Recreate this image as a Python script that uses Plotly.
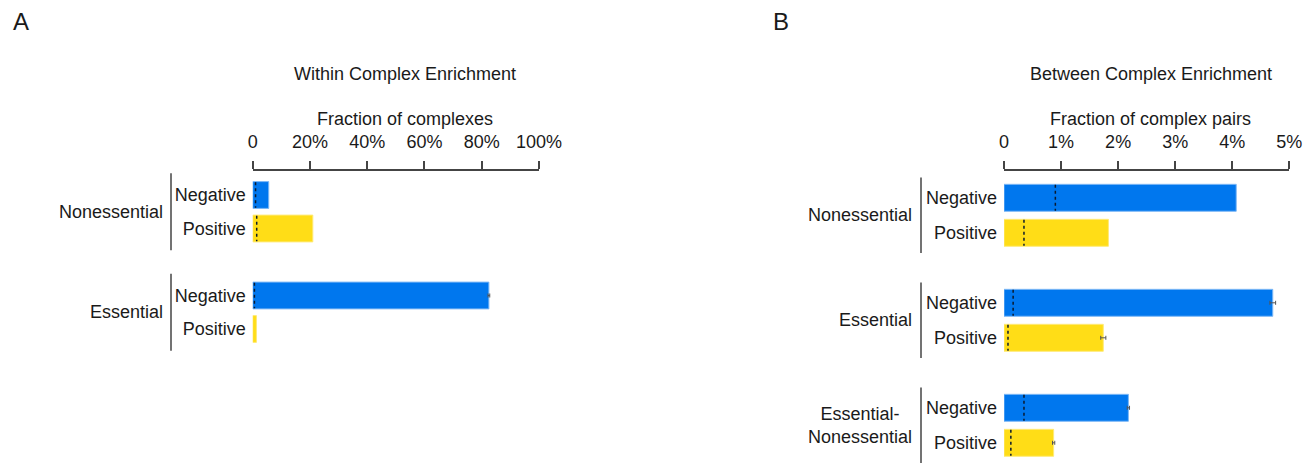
import plotly.graph_objects as go

W, H = 1316, 466

# ---------------- data ----------------
types = ["Negative", "Positive"]
A_groups = ["Nonessential", "Essential"]
A_values = [5.6, 21.0, 82.5, 1.3]          # % of complexes
A_null = [1.0, 1.4, 0.6, None]             # dashed background level
A_err = [None, None, 0.3, None]
A_ticks = [0, 20, 40, 60, 80, 100]
A_ticktext = ["0", "20%", "40%", "60%", "80%", "100%"]

B_groups = ["Nonessential", "Essential", "Essential-<br>Nonessential"]
B_values = [4.07, 1.83, 4.71, 1.74, 2.18, 0.87]   # % of complex pairs
B_null = [0.9, 0.35, 0.16, 0.07, 0.35, 0.12]
B_err = [None, None, 0.05, 0.045, 0.02, 0.02]
B_ticks = [0, 1, 2, 3, 4, 5]
B_ticktext = ["0", "1%", "2%", "3%", "4%", "5%"]

BLUE, BLUE_EDGE = "#0077EE", "#7DB8F6"
YELLOW, YELLOW_EDGE = "#FFDD17", "#FFEA77"
TXT = "#1a1a1a"
AX = "#444444"
FONT = "Liberation Sans, Arial, Helvetica, sans-serif"


def px_x(x):
    return x / W


def px_y(y):
    return 1 - y / H


def build_categories(groups):
    cats, keys = [], []
    for gi, g in enumerate(groups):
        if gi > 0:
            cats.append(" " * gi)  # spacer category between groups
        for t in types:
            k = f"{g}|{t}"
            cats.append(k)
            keys.append(k)
    return cats, keys


A_cats, A_keys = build_categories(A_groups)
B_cats, B_keys = build_categories(B_groups)

fig = go.Figure()

for keys, vals, errs, xa, ya, bw in [(A_keys, A_values, A_err, "x", "y", 0.8),
                                      (B_keys, B_values, B_err, "x2", "y2", 0.77)]:
    for k, v, e in zip(keys, vals, errs):
        neg = k.endswith("Negative")
        tr = dict(x=[v], y=[k], orientation="h", xaxis=xa, yaxis=ya,
                  marker=dict(color=BLUE if neg else YELLOW,
                              line=dict(width=1, color=BLUE_EDGE if neg else YELLOW_EDGE)),
                  width=bw, hoverinfo="x+y")
        if e is not None:
            tr["error_x"] = dict(type="data", array=[e], color="#555",
                                 thickness=1, width=2)
        fig.add_trace(go.Bar(**tr))

shapes = []
# dashed background lines
for keys, cats, nulls, xr, yr, hw in [(A_keys, A_cats, A_null, "x", "y", 0.38),
                                       (B_keys, B_cats, B_null, "x2", "y2", 0.37)]:
    for k, v in zip(keys, nulls):
        if v is None:
            continue
        i = cats.index(k)
        shapes.append(dict(type="line", xref=xr, yref=yr, x0=v, x1=v,
                           y0=i - hw, y1=i + hw,
                           line=dict(color="#0a1a2e", width=1.5, dash="3px,3px")))

annotations = []
# group brackets and labels
for groups, cats, yr, bx, ext, lx in [(A_groups, A_cats, "y", 171, 0.65, 165),
                                       (B_groups, B_cats, "y2", 921, 0.58, 914)]:
    for g in groups:
        i0 = cats.index(f"{g}|{types[0]}")
        i1 = cats.index(f"{g}|{types[-1]}")
        shapes.append(dict(type="line", xref="paper", yref=yr,
                           x0=px_x(bx), x1=px_x(bx), y0=i0 - ext, y1=i1 + ext,
                           line=dict(color=AX, width=1.5)))
        annotations.append(dict(text=g, xref="paper", yref=yr, x=px_x(lx),
                                y=(i0 + i1) / 2, xanchor="right", yanchor="middle",
                                align="center", showarrow=False,
                                font=dict(size=18, color=TXT)))

# panel letters, titles, axis titles
for txt, x, y, size in [("A", 21, 22, 24), ("B", 781, 22, 24),
                        ("Within Complex Enrichment", 405, 74, 18),
                        ("Between Complex Enrichment", 1151, 74, 18),
                        ("Fraction of complexes", 405, 119, 18),
                        ("Fraction of complex pairs", 1150, 119, 18)]:
    annotations.append(dict(text=txt, xref="paper", yref="paper", x=px_x(x), y=px_y(y),
                            xanchor="center", yanchor="middle", showarrow=False,
                            font=dict(size=size, color=TXT)))

xcommon = dict(side="top", showline=True, linecolor=AX, linewidth=1.5, ticks="outside",
               ticklen=8, tickwidth=1.5, tickcolor=AX, showgrid=False, zeroline=False,
               tickfont=dict(size=18, color=TXT), ticklabelstandoff=6, automargin=False)
ycommon = dict(type="category", showline=False, ticks="", showgrid=False, zeroline=False,
               tickfont=dict(size=18, color=TXT), ticklabelstandoff=6, automargin=False)

A_top, A_bot = 171, 360
B_top, B_bot = 171, 466
A_unit, B_unit = 33.5, 35.0
A_start = -24 / A_unit
B_start = -26.8 / B_unit

fig.update_layout(
    template="none",
    width=W, height=H, margin=dict(l=0, r=0, t=0, b=0, pad=0), autosize=False,
    paper_bgcolor="white", plot_bgcolor="white", showlegend=False,
    barmode="overlay",
    font=dict(family=FONT, color=TXT, size=18),
    xaxis=dict(domain=[px_x(252.7), px_x(539)], anchor="y", range=[0, 100],
               tickvals=A_ticks, ticktext=A_ticktext, **xcommon),
    yaxis=dict(domain=[px_y(A_bot), px_y(A_top)], anchor="x",
               categoryorder="array", categoryarray=A_cats,
               range=[A_start + (A_bot - A_top) / A_unit, A_start],
               tickvals=A_keys, ticktext=[k.split("|")[1] for k in A_keys], **ycommon),
    xaxis2=dict(domain=[px_x(1004), px_x(1289.3)], anchor="y2", range=[0, 5],
                tickvals=B_ticks, ticktext=B_ticktext, **xcommon),
    yaxis2=dict(domain=[px_y(B_bot), px_y(B_top)], anchor="x2",
                categoryorder="array", categoryarray=B_cats,
                range=[B_start + (B_bot - B_top) / B_unit, B_start],
                tickvals=B_keys, ticktext=[k.split("|")[1] for k in B_keys], **ycommon),
    shapes=shapes, annotations=annotations,
)

fig.write_html("out.html", config={"displayModeBar": False},
               post_script="document.body.style.margin='0';"
                           "document.body.style.overflow='hidden';")
